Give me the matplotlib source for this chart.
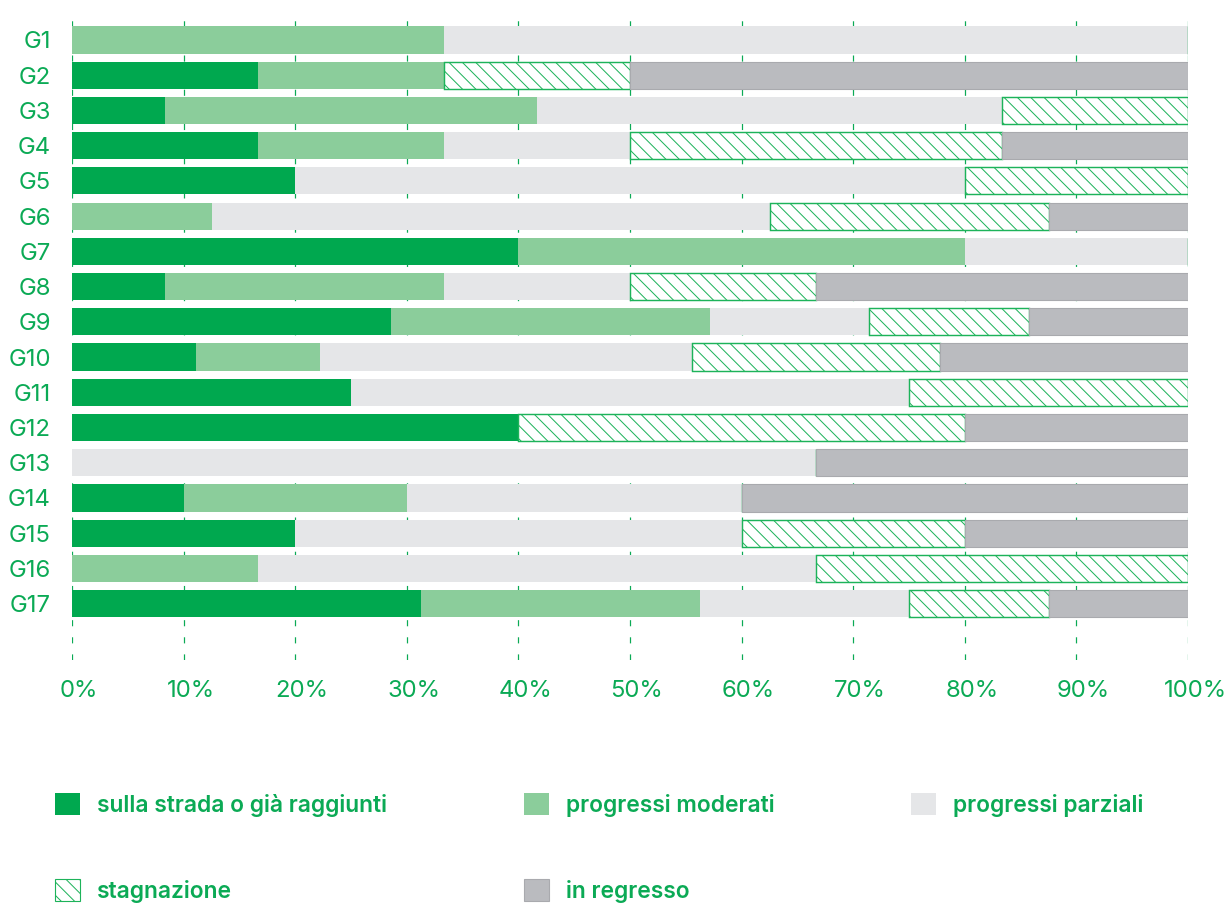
import matplotlib.pyplot as plt
import matplotlib.transforms as mtransforms
from matplotlib.patches import Patch

DPI = 80

goals = ["G1", "G2", "G3", "G4", "G5", "G6", "G7", "G8", "G9", "G10",
         "G11", "G12", "G13", "G14", "G15", "G16", "G17"]

# share of targets (%) per status
on_track = [0, 16.67, 8.33, 16.67, 20, 0, 40, 8.33, 28.57, 11.11,
            25, 40, 0, 10, 20, 0, 31.25]
moderate = [33.33, 16.67, 33.33, 16.67, 0, 12.5, 40, 25, 28.57, 11.11,
            0, 0, 0, 20, 0, 16.67, 25]
partial = [66.67, 0, 41.67, 16.67, 60, 50, 20, 16.67, 14.29, 33.33,
           50, 0, 66.67, 30, 40, 50, 18.75]
stagnation = [0, 16.67, 16.67, 33.33, 20, 25, 0, 16.67, 14.29, 22.22,
              25, 40, 0, 0, 20, 33.33, 12.5]
regress = [0, 50, 0, 16.67, 0, 12.5, 0, 33.33, 14.29, 22.22,
           0, 20, 33.33, 40, 20, 0, 12.5]

xticks = [0, 10, 20, 30, 40, 50, 60, 70, 80, 90, 100]
xlabels = [f"{t}%" for t in xticks]

labels = ["sulla strada o già raggiunti", "progressi moderati",
          "progressi parziali", "stagnazione", "in regresso"]

GREEN_TXT = "#0BAA55"
C_ON = "#00A84F"
C_MOD = "#8BCD9B"
C_PART = "#E5E6E8"
C_STAG_EDGE = "#1DB35A"
C_REG = "#BABBBF"

plt.rcParams['font.family'] = ['Inter', 'DejaVu Sans']
plt.rcParams['hatch.linewidth'] = 0.9

fig = plt.figure(figsize=(1229 / DPI, 905 / DPI), dpi=DPI)
ax = fig.add_axes([72 / 1229, 1 - 660 / 905, (1188 - 72) / 1229, 650 / 905])

y = list(range(len(goals)))
h = 0.77
left = [0] * len(goals)

def stack(vals, **kw):
    global left
    ax.barh(y, vals, left=left, height=h, zorder=2, **kw)
    left = [a + b for a, b in zip(left, vals)]

stack(on_track, color=C_ON, linewidth=0)
stack(moderate, color=C_MOD, linewidth=0)
stack(partial, color=C_PART, linewidth=0)
stack(stagnation, facecolor="white", edgecolor=C_STAG_EDGE, hatch="\\\\", linewidth=1.3)
stack(regress, facecolor=C_REG, edgecolor="#A9AAAE", linewidth=1.0)

ax.set_xlim(0, 100)
ax.set_ylim(17.6, -0.85)
ax.set_xticks(xticks)
ax.set_xticklabels(xlabels)
ax.set_yticks(y)
ax.set_yticklabels(goals)
ax.tick_params(axis="both", length=0, labelcolor=GREEN_TXT, labelsize=21.5)
ax.tick_params(axis="x", pad=18)
ax.tick_params(axis="y", pad=19)
# x labels sit a little right of their ticks in the original
shift = mtransforms.ScaledTranslation(7 / DPI, 0, fig.dpi_scale_trans)
for lab in ax.get_xticklabels():
    lab.set_transform(lab.get_transform() + shift)
for s in ax.spines.values():
    s.set_visible(False)
ax.grid(axis="x", color=GREEN_TXT, linestyle=(0, (5, 9)), linewidth=1.1, zorder=0)
ax.set_axisbelow(True)

handles = [
    Patch(facecolor=C_ON, edgecolor="none"),
    Patch(facecolor="white", edgecolor=C_STAG_EDGE, hatch="\\\\"),
    Patch(facecolor=C_MOD, edgecolor="none"),
    Patch(facecolor=C_REG, edgecolor="#A9AAAE"),
    Patch(facecolor=C_PART, edgecolor="none"),
]
order = [labels[0], labels[3], labels[1], labels[4], labels[2]]
leg = fig.legend(handles, order, ncol=3, loc="upper left",
                 bbox_to_anchor=(55 / 1229, 1 - 793 / 905), frameon=False,
                 fontsize=20.5, handlelength=1.1, handleheight=1.1,
                 handletextpad=0.75, columnspacing=6.0, labelspacing=2.75,
                 borderaxespad=0, borderpad=0)
for t in leg.get_texts():
    t.set_color(GREEN_TXT)
    t.set_fontweight("semibold")

fig.savefig("out.png", dpi=DPI)
